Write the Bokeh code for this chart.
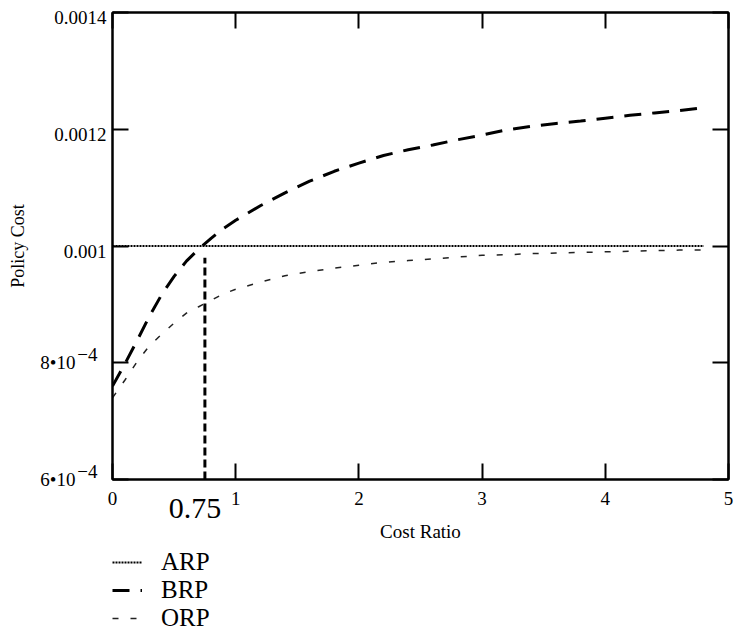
from bokeh.plotting import figure
from bokeh.models import Range1d, FixedTicker, LinearAxis, Legend, LegendItem
from bokeh.layouts import column
from bokeh.embed import file_html
from bokeh.resources import INLINE

# ---------------- data ----------------
cost_ratio = [0.0, 0.1, 0.2, 0.3, 0.4, 0.5, 0.6, 0.7, 0.8, 0.9, 1.0,
              1.2, 1.4, 1.6, 1.8, 2.0, 2.2, 2.4, 2.6, 2.8, 3.0,
              3.2, 3.4, 3.6, 3.8, 4.0, 4.2, 4.4, 4.6, 4.8]
brp_cost = [7.60e-4, 7.98e-4, 8.38e-4, 8.80e-4, 9.17e-4, 9.48e-4, 9.74e-4,
            9.95e-4, 10.13e-4, 10.30e-4, 10.44e-4,
            10.69e-4, 10.91e-4, 11.11e-4, 11.28e-4, 11.42e-4, 11.55e-4,
            11.65e-4, 11.73e-4, 11.82e-4, 11.90e-4,
            11.99e-4, 12.05e-4, 12.10e-4, 12.14e-4, 12.19e-4, 12.24e-4,
            12.28e-4, 12.32e-4, 12.37e-4]
orp_cost = [7.40e-4, 7.70e-4, 8.02e-4, 8.29e-4, 8.49e-4, 8.68e-4, 8.85e-4,
            8.96e-4, 9.07e-4, 9.18e-4, 9.26e-4,
            9.38e-4, 9.49e-4, 9.56e-4, 9.62e-4, 9.67e-4, 9.72e-4,
            9.75e-4, 9.78e-4, 9.81e-4, 9.84e-4,
            9.85e-4, 9.87e-4, 9.88e-4, 9.89e-4, 9.90e-4, 9.91e-4,
            9.92e-4, 9.93e-4, 9.93e-4]
arp_ratio = [0.0, 4.8]
arp_cost = [0.001, 0.001]
threshold_ratio = [0.75, 0.75]
threshold_cost = [0.0006, 0.00098]
threshold_label = "0.75"
series_names = ["ARP", "BRP", "ORP"]

x_ticks = [0, 1, 2, 3, 4, 5]
y_ticks = [0.0006, 0.0008, 0.001, 0.0012, 0.0014]
decimal_labels = {0.001: "0.001", 0.0012: "0.0012", 0.0014: "0.0014"}
sci_values = [0.0006, 0.0008]
sci_mantissa = ["6\u202210", "8\u202210"]
sci_exponent = ["\u22124", "\u22124"]

FONT = "Liberation Serif"
INK = "black"
W = 735
H_PLOT, H_LEG = 548, 86
LEFT, RIGHT, TOP, BOTTOM = 112, 7, 12, 69
X0, X1 = 0, 5
Y0, Y1 = 0.0006, 0.0014
px_x = (X1 - X0) / (W - LEFT - RIGHT)          # data units per pixel
px_y = (Y1 - Y0) / (H_PLOT - TOP - BOTTOM)

series = {
    "ARP": (arp_ratio, arp_cost,
            dict(line_color="black", line_width=2, line_dash="2 1")),
    "BRP": (cost_ratio, brp_cost,
            dict(line_color="black", line_width=3, line_dash="17 11")),
    "ORP": (cost_ratio, orp_cost,
            dict(line_color="#222222", line_width=1.5, line_dash="6 12")),
}

# ---------------- figure ----------------
p = figure(width=W, height=H_PLOT, x_range=Range1d(X0, X1),
           y_range=Range1d(Y0, Y1), output_backend="svg",
           toolbar_location=None, min_border_left=LEFT,
           min_border_right=RIGHT, min_border_top=TOP,
           min_border_bottom=BOTTOM)
p.grid.visible = False
p.outline_line_color = "black"
p.outline_line_width = 2
# shifted scales used only to place tick texts a few pixels off their ticks
p.extra_x_ranges = {"thr": Range1d(X0 + 10 * px_x, X1 + 10 * px_x)}
p.extra_y_ranges = {"exp": Range1d(Y0 - 8 * px_y, Y1 - 8 * px_y),
                    "dec": Range1d(Y0 + 5 * px_y, Y1 + 5 * px_y)}


def tick_style(ax):
    ax.major_tick_in = 16
    ax.major_tick_out = 0
    ax.minor_tick_line_color = None
    ax.major_tick_line_width = 2
    ax.major_tick_line_color = "black"
    ax.axis_line_width = 2
    ax.axis_line_color = "black"


def label_only(ax, size):
    ax.axis_line_color = None
    ax.major_tick_line_color = None
    ax.minor_tick_line_color = None
    ax.major_tick_in = 0
    ax.major_tick_out = 0
    ax.major_label_text_font = FONT
    ax.major_label_text_font_size = size
    ax.major_label_text_color = INK


def axis_title(ax, text, size, standoff):
    ax.axis_label = text
    ax.axis_label_text_font = FONT
    ax.axis_label_text_font_size = size
    ax.axis_label_text_font_style = "normal"
    ax.axis_label_text_color = INK
    ax.axis_label_standoff = standoff


# bottom axis: ticks + numbers
xa = p.xaxis[0]
xa.ticker = FixedTicker(ticks=x_ticks)
tick_style(xa)
xa.major_label_standoff = 12
xa.major_label_text_font = FONT
xa.major_label_text_font_size = "19px"
xa.major_label_text_color = INK

# second bottom axis: threshold value + axis title
xb = LinearAxis(x_range_name="thr",
                ticker=FixedTicker(ticks=[threshold_ratio[0]]),
                major_label_overrides={threshold_ratio[0]: threshold_label})
label_only(xb, "30px")
xb.major_label_standoff = -9
axis_title(xb, "Cost Ratio", "19px", 0)
p.add_layout(xb, "below")

# left axis: tick marks only
ya = p.yaxis[0]
ya.ticker = FixedTicker(ticks=y_ticks)
ya.major_label_overrides = {t: "" for t in y_ticks}
tick_style(ya)
ya.major_label_standoff = 0
ya.major_label_text_font_size = "0px"

# exponents (raised)
ye = LinearAxis(y_range_name="exp", ticker=FixedTicker(ticks=sci_values),
                major_label_overrides=dict(zip(sci_values, sci_exponent)))
label_only(ye, "19px")
ye.major_label_standoff = 15
p.add_layout(ye, "left")

# decimal labels
yd = LinearAxis(y_range_name="dec",
                ticker=FixedTicker(ticks=list(decimal_labels)),
                major_label_overrides=decimal_labels)
label_only(yd, "19px")
yd.major_label_standoff = -32
p.add_layout(yd, "left")

# mantissas + axis title
ym = LinearAxis(ticker=FixedTicker(ticks=sci_values),
                major_label_overrides=dict(zip(sci_values, sci_mantissa)))
label_only(ym, "19px")
ym.major_label_standoff = -24
axis_title(ym, "Policy Cost", "18px", 9)
p.add_layout(ym, "left")

# top and right axes: inner ticks only
top = LinearAxis(ticker=FixedTicker(ticks=x_ticks),
                 major_label_overrides={t: "" for t in x_ticks})
right = LinearAxis(ticker=FixedTicker(ticks=y_ticks),
                   major_label_overrides={t: "" for t in y_ticks})
for ax in (top, right):
    tick_style(ax)
    ax.major_label_standoff = 0
    ax.major_label_text_font_size = "0px"
p.add_layout(top, "above")
p.add_layout(right, "right")

# ---------------- lines ----------------
for name in series_names:
    xs, ys, st = series[name]
    p.line(xs, ys, **st)
p.line(threshold_ratio, threshold_cost, line_color="black", line_width=3,
       line_dash="8 4")

# ---------------- legend strip below ----------------
# the key's sample renderers carry the same series, scrolled out of view
q = figure(width=W, height=H_LEG, x_range=Range1d(0, 1),
           y_range=Range1d(1, 2), output_backend="svg",
           toolbar_location=None, x_axis_type=None, y_axis_type=None,
           min_border_left=LEFT, min_border_right=0, min_border_top=0,
           min_border_bottom=0)
q.grid.visible = False
q.outline_line_color = None
items = []
for name in series_names:
    xs, ys, st = series[name]
    r = q.line(xs, ys, **st)
    items.append(LegendItem(label=name, renderers=[r]))
legend = Legend(items=items, location="top_left", orientation="vertical",
                label_text_font=FONT, label_text_font_size="25px",
                label_text_color=INK,
                glyph_width=30, glyph_height=26, label_height=26,
                label_standoff=19, spacing=0, padding=0, margin=0,
                border_line_color=None, background_fill_alpha=0)
q.add_layout(legend, "center")

open("out.html", "w").write(file_html(column(p, q, spacing=0), INLINE))
